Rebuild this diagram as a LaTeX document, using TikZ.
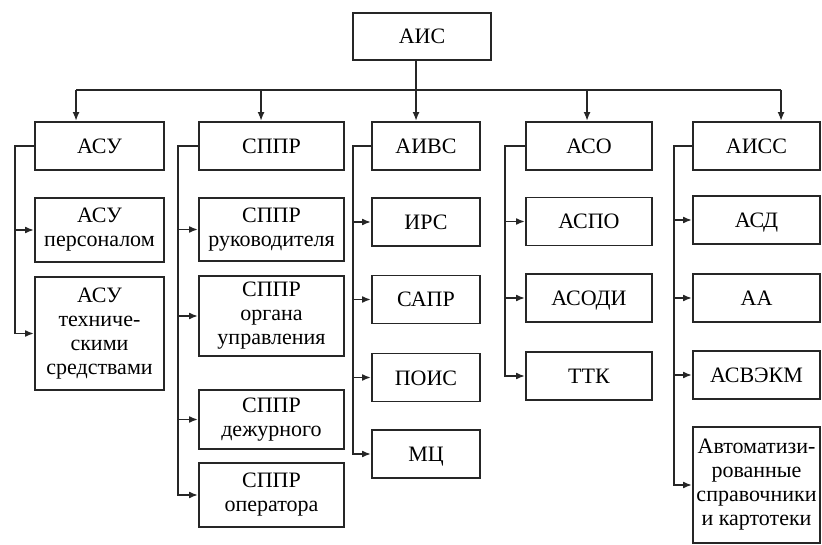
\documentclass[tikz,border=0pt]{standalone}
\usepackage{fontspec}
\setmainfont{Liberation Serif}
\usetikzlibrary{arrows.meta,positioning}

\begin{document}
\begin{tikzpicture}[
  x=1pt, y=-1pt,
  font=\fontsize{22}{24}\selectfont,
  >={Latex[length=9pt,width=7pt]},
  sys/.style={rectangle, draw=black!85, line width=1.9pt, align=center,
              inner sep=1pt, minimum height=48pt},
  one/.style={text height=15pt, text depth=0pt},
  asucol/.style={sys, minimum width=129pt},
  spprcol/.style={sys, minimum width=145pt},
  aivscol/.style={sys, one, minimum width=108pt},
  asocol/.style={sys, one, minimum width=126pt},
  aisscol/.style={sys, minimum width=127pt},
  flow/.style={line width=1.9pt, draw=black!85},
]
\useasboundingbox (0,0) rectangle (822,545);

% root and first level
\node[sys, one, minimum width=138pt, minimum height=47pt] (ais) at (422,36.5) {АИС};
\node[asucol, one]  (asu)  at (99.5,146)  {АСУ};
\node[spprcol, one] (sppr) at (271.5,146) {СППР};
\node[aivscol] (aivs) at (426,146)   {АИВС};
\node[asocol]  (aso)  at (589,146)   {АСО};
\node[aisscol, one] (aiss) at (756.5,146) {АИСС};

% АСУ
\node[asucol, minimum height=64pt]  (asu1) at (99.5,230)   {АСУ\\персоналом};
\node[asucol, minimum height=113pt] (asu2) at (99.5,333.5) {АСУ\\техниче-\\скими\\средствами};

% СППР
\node[spprcol, minimum height=63pt] (sppr1) at (271.5,229.5) {СППР\\руководителя};
\node[spprcol, minimum height=80pt] (sppr2) at (271.5,316)   {СППР\\органа\\управления};
\node[spprcol, minimum height=59pt] (sppr3) at (271.5,419.5) {СППР\\дежурного};
\node[spprcol, minimum height=64pt] (sppr4) at (271.5,495)   {СППР\\оператора};

% АИВС
\node[aivscol] (aivs1) at (426,222)   {ИРС};
\node[aivscol] (aivs2) at (426,299.5) {САПР};
\node[aivscol] (aivs3) at (426,377.5) {ПОИС};
\node[aivscol] (aivs4) at (426,454)   {МЦ};

% АСО
\node[asocol] (aso1) at (589,221.5) {АСПО};
\node[asocol] (aso2) at (589,298)   {АСОДИ};
\node[asocol] (aso3) at (589,376)   {ТТК};

% АИСС
\node[aisscol, one] (aiss1) at (756.5,220) {АСД};
\node[aisscol, one] (aiss2) at (756.5,298) {АА};
\node[aisscol, one] (aiss3) at (756.5,375) {АСВЭКМ};
\node[aisscol, minimum height=116pt] (aiss4) at (756.5,485)
  {Автоматизи-\\рованные\\справочники\\и картотеки};

% links from the root
\draw[flow] ([xshift=64pt]ais.south west) -- ++(0,29) coordinate (bus);
\draw[flow] ([xshift=42pt]asu.north west |- bus) -- ([xshift=89pt]aiss.north west |- bus);
\foreach \n/\s in {asu/42, sppr/63, aivs/45, aso/62, aiss/89}
  \draw[flow,->] ([xshift=\s pt]\n.north west |- bus) -- ([xshift=\s pt]\n.north west);

% links inside each group
\foreach \c in {asu1,asu2}
  \draw[flow,->] (asu.west) -- ++(-19,0) |- (\c.west);
\foreach \c in {sppr1,sppr2,sppr3,sppr4}
  \draw[flow,->] (sppr.west) -- ++(-20,0) |- (\c.west);
\foreach \c in {aivs1,aivs2,aivs3,aivs4}
  \draw[flow,->] (aivs.west) -- ++(-18,0) |- (\c.west);
\foreach \c in {aso1,aso2,aso3}
  \draw[flow,->] (aso.west) -- ++(-20,0) |- (\c.west);
\foreach \c in {aiss1,aiss2,aiss3,aiss4}
  \draw[flow,->] (aiss.west) -- ++(-18,0) |- (\c.west);

\end{tikzpicture}
\end{document}
